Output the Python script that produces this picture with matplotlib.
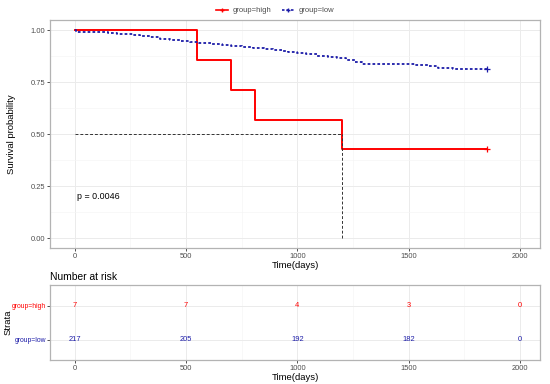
import numpy as np
import matplotlib.pyplot as plt
from matplotlib.lines import Line2D

plt.rcParams['font.family'] = ['Liberation Sans', 'DejaVu Sans']

# krzywe przezycia
high_t = [0, 550, 700, 810, 1200, 1850]
high_s = [1.0, 0.857, 0.714, 0.571, 0.429, 0.429]

low_t = [0, 8, 150, 190, 260, 293, 340, 383, 430, 473, 520, 560, 610, 660, 700,
         750, 800, 850, 890, 930, 960, 1000, 1040, 1090, 1140, 1180, 1220, 1260,
         1290, 1530, 1590, 1630, 1700, 1800, 1850]
low_s = [1.0, 0.991, 0.986, 0.981, 0.976, 0.971, 0.966, 0.960, 0.955, 0.950,
         0.945, 0.940, 0.935, 0.930, 0.926, 0.921, 0.916, 0.911, 0.906, 0.900,
         0.894, 0.889, 0.884, 0.878, 0.872, 0.865, 0.857, 0.850, 0.840, 0.835,
         0.828, 0.821, 0.816, 0.812, 0.812]

median_high = 1200
p_text = "p = 0.0046"

# tabela ryzyka
risk_times = [0, 500, 1000, 1500, 2000]
risk_high = [7, 7, 4, 3, 0]
risk_low = [217, 205, 192, 182, 0]
strata = ["group=high", "group=low"]

red = "#FF0000"
blue = "#1C1CA8"
gridc = "#EBEBEB"
tickc = "#4D4D4D"

fig = plt.figure(figsize=(5.5, 3.84), dpi=100)
ax = fig.add_axes([0.0909, 0.354, 0.8909, 0.594])
ax2 = fig.add_axes([0.0909, 0.0625, 0.8909, 0.195])

def style(a):
    for s in a.spines.values():
        s.set_color("#B3B3B3")
        s.set_linewidth(0.9)
    a.tick_params(colors="#333333", labelcolor=tickc, labelsize=5.4, length=2, width=0.6, pad=1.5)
    a.set_axisbelow(True)

style(ax)
xticks = [0, 500, 1000, 1500, 2000]
ax.set_xticks(xticks)
ax.set_xticks([250, 750, 1250, 1750], minor=True)
ax.set_yticks([0, 0.25, 0.5, 0.75, 1.0])
ax.set_yticks([0.125, 0.375, 0.625, 0.875], minor=True)
ax.set_yticklabels(["0.00", "0.25", "0.50", "0.75", "1.00"])
ax.tick_params(which="minor", length=0)
ax.grid(which="major", color=gridc, lw=0.7)
ax.grid(which="minor", color="#F5F5F5", lw=0.5)
ax.set_xlim(-111, 2090)
ax.set_ylim(-0.047, 1.05)

ax.step(high_t, high_s, where="post", color=red, lw=1.4)
ax.step(low_t, low_s, where="post", color=blue, lw=1.3, linestyle=(0, (1.5, 1.2)))
ax.plot([high_t[-1]], [high_s[-1]], marker="+", color=red, ms=4, mew=0.9)
ax.plot([low_t[-1]], [low_s[-1]], marker="+", color=blue, ms=4, mew=0.9)

ax.plot([0, median_high], [0.5, 0.5], color="#333333", lw=0.7, linestyle=(0, (3, 2)))
ax.plot([median_high, median_high], [0, 0.5], color="#333333", lw=0.7, linestyle=(0, (3, 2)))

ax.text(10, 0.2, p_text, fontsize=6.4, va="center", ha="left")
ax.set_xlabel("Time(days)", fontsize=6.8, labelpad=1)
ax.set_ylabel("Survival probability", fontsize=6.8)
ax.yaxis.set_label_coords(-0.07, 0.5)

handles = [Line2D([], [], color=red, lw=1.2, marker="+", ms=3.5),
           Line2D([], [], color=blue, lw=1.2, linestyle=(0, (1.5, 1.2)), marker="+", ms=3.5)]
fig.legend(handles, strata, loc="upper center", bbox_to_anchor=(0.5, 1.0), ncol=2,
           frameon=False, fontsize=5.5, handlelength=1.6, columnspacing=1.4,
           handletextpad=0.6, labelcolor=tickc)

# tabela
style(ax2)
ax2.set_xlim(-111, 2090)
ax2.set_ylim(0.4, 2.6)
ax2.set_xticks(xticks)
ax2.set_xticks([250, 750, 1250, 1750], minor=True)
ax2.set_yticks([1, 2])
ax2.set_yticklabels(strata[::-1])
ax2.tick_params(axis="y", labelsize=4.9, pad=1)
ax2.tick_params(which="minor", length=0)
ax2.grid(which="major", color=gridc, lw=0.7)
ax2.grid(which="minor", axis="x", color="#F5F5F5", lw=0.5)
for lab, c in zip(ax2.get_yticklabels(), [blue, red]):
    lab.set_color(c)
for t, h, l in zip(risk_times, risk_high, risk_low):
    ax2.text(t, 2, str(h), color=red, fontsize=5.4, ha="center", va="center")
    ax2.text(t, 1, str(l), color=blue, fontsize=5.4, ha="center", va="center")
ax2.set_xlabel("Time(days)", fontsize=6.8, labelpad=1)
ax2.set_ylabel("Strata", fontsize=6.8)
ax2.yaxis.set_label_coords(-0.077, 0.5)
ax2.set_title("Number at risk", fontsize=7.4, loc="left", pad=4)

fig.savefig("out.png", dpi=100)
